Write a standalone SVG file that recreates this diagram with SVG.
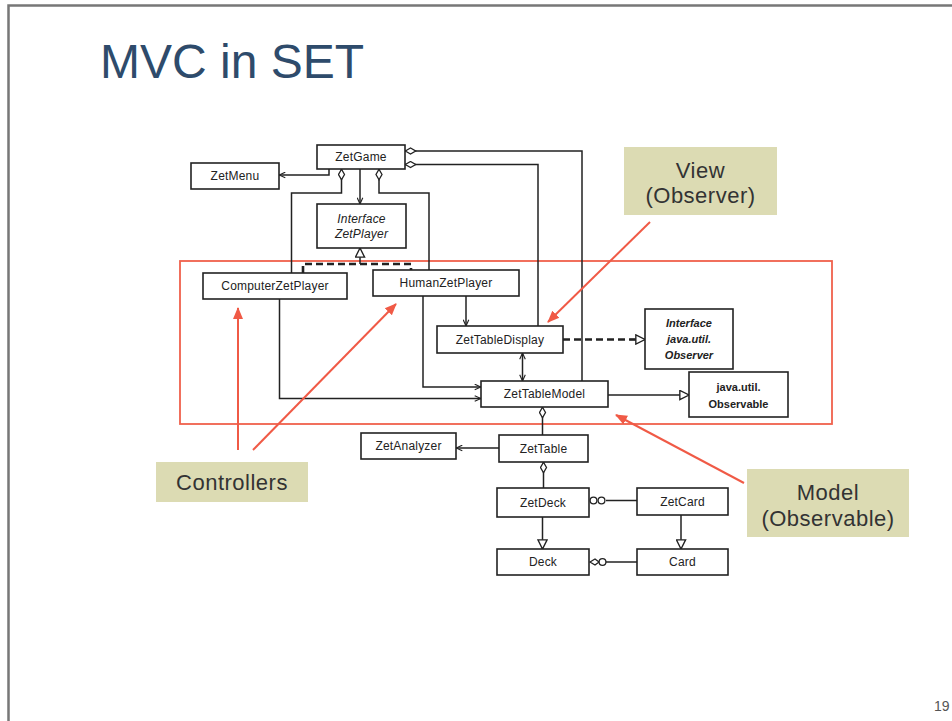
<svg xmlns="http://www.w3.org/2000/svg" width="952" height="721" viewBox="0 0 952 721">
<defs>
<style>
.box{fill:#fff;stroke:#222;stroke-width:1.6}
.t{font-family:"Liberation Sans",Arial,sans-serif;font-size:12px;fill:#222;text-anchor:middle;letter-spacing:0.2px}
.ti{font-style:italic}
.tb{font-weight:bold;font-size:11px;letter-spacing:0}
.c{fill:none;stroke:#222;stroke-width:1.5}
.d{fill:none;stroke:#222;stroke-width:2.6;stroke-dasharray:7,4}
.red{fill:none;stroke:#f05a46;stroke-width:2}
.lab{fill:#dcdbb3}
.lt{font-family:"Liberation Sans",Arial,sans-serif;font-size:22px;fill:#333;text-anchor:middle;letter-spacing:0.5px}
</style>
<marker id="arr" viewBox="0 0 10 10" refX="10" refY="5" markerWidth="7" markerHeight="7" markerUnits="userSpaceOnUse" orient="auto-start-reverse">
<path d="M1,1 L10,5 L1,9" fill="none" stroke="#222" stroke-width="1.6"/>
</marker>
<marker id="tri" viewBox="0 0 12 12" refX="11" refY="6" markerWidth="11" markerHeight="11" markerUnits="userSpaceOnUse" orient="auto">
<path d="M1,1 L11,6 L1,11 Z" fill="#fff" stroke="#222" stroke-width="1.5"/>
</marker>
<marker id="dia" viewBox="0 0 12 8" refX="0.5" refY="4" markerWidth="12" markerHeight="8" markerUnits="userSpaceOnUse" orient="auto">
<path d="M0.8,4 L6,1 L11.2,4 L6,7 Z" fill="#fff" stroke="#222" stroke-width="1.3"/>
</marker>
<marker id="redarr" viewBox="0 0 12 12" refX="11" refY="6" markerWidth="12" markerHeight="12" markerUnits="userSpaceOnUse" orient="auto">
<path d="M0,1 L12,6 L0,11 Z" fill="#f05a46"/>
</marker>
</defs>
<rect width="952" height="721" fill="#fff"/>
<path d="M8.5,721 V5.5 H952" fill="none" stroke="#777" stroke-width="2.5"/>
<text x="100" y="78" font-family="'Liberation Sans',Arial,sans-serif" font-size="48" fill="#2e4b6b">MVC in SET</text>
<text x="934" y="711" font-family="'Liberation Sans',Arial,sans-serif" font-size="14" fill="#555">19</text>

<rect x="180" y="261" width="652" height="163" fill="none" stroke="#f0614c" stroke-width="1.8"/>

<g id="connectors">
<path class="c" d="M329,169 V175 H279" marker-end="url(#arr)"/>
<path class="c" d="M360,169 V204" marker-end="url(#arr)"/>
<path class="c" d="M341.5,169 V193 H291.5 V273" marker-start="url(#dia)"/>
<path class="c" d="M379,169 V193 H429 V270" marker-start="url(#dia)"/>
<path class="d" d="M303,273 V264 H411 V270"/>
<path class="c" d="M360,264 V248" marker-end="url(#tri)"/>
<path class="c" d="M405,151 H582 V381" marker-start="url(#dia)"/>
<path class="c" d="M405,164.5 H538 V326" marker-start="url(#dia)"/>
<path class="c" d="M279.5,299 V398.5 H481" marker-end="url(#arr)"/>
<path class="c" d="M423,296 V387 H481" marker-end="url(#arr)"/>
<path class="c" d="M466,296 V326" marker-end="url(#arr)"/>
<path class="c" d="M522.5,353 V381" marker-start="url(#arr)" marker-end="url(#arr)"/>
<path class="d" d="M563,339.5 H636"/>
<path class="c" d="M630,339.5 H645" marker-end="url(#tri)"/>
<path class="c" d="M608,395 H689" marker-end="url(#tri)"/>
<path class="c" d="M542.5,407 V435" marker-start="url(#dia)"/>
<path class="c" d="M499,448 H456" marker-end="url(#arr)"/>
<path class="c" d="M543.5,462 V488" marker-start="url(#dia)"/>
<path class="c" d="M606,500.5 H637"/>
<circle cx="593.5" cy="500.5" r="3.4" fill="#fff" stroke="#222" stroke-width="1.3"/>
<circle cx="601.5" cy="500.5" r="3.4" fill="#fff" stroke="#222" stroke-width="1.3"/>
<path class="c" d="M542.5,517 V549" marker-end="url(#tri)"/>
<path class="c" d="M681,515 V549" marker-end="url(#tri)"/>
<path class="c" d="M606,562 H637"/>
<path d="M590,562 L595,559 L599,562 L595,565 Z" fill="#fff" stroke="#222" stroke-width="1.3"/>
<circle cx="602.5" cy="562" r="3.4" fill="#fff" stroke="#222" stroke-width="1.3"/>
</g>

<g id="ZetGame"><rect class="box" x="317" y="145" width="88" height="24"/><text class="t" x="361" y="161">ZetGame</text></g>
<g id="ZetMenu"><rect class="box" x="191" y="163" width="88" height="26"/><text class="t" x="235" y="180">ZetMenu</text></g>
<g id="ZetPlayer"><rect class="box" x="317" y="204" width="89" height="44"/><text class="t ti" x="361.5" y="223">Interface</text><text class="t ti" x="361.5" y="238">ZetPlayer</text></g>
<g id="ComputerZetPlayer"><rect class="box" x="203" y="273" width="144" height="26"/><text class="t" x="275" y="290">ComputerZetPlayer</text></g>
<g id="HumanZetPlayer"><rect class="box" x="373" y="270" width="146" height="26"/><text class="t" x="446" y="287">HumanZetPlayer</text></g>
<g id="ZetTableDisplay"><rect class="box" x="437" y="326" width="126" height="27"/><text class="t" x="500" y="344">ZetTableDisplay</text></g>
<g id="Observer"><rect class="box" x="645" y="309" width="88" height="60"/><text class="t ti tb" x="689" y="327">Interface</text><text class="t ti tb" x="689" y="343">java.util.</text><text class="t ti tb" x="689" y="359">Observer</text></g>
<g id="ZetTableModel"><rect class="box" x="481" y="381" width="127" height="26"/><text class="t" x="544.5" y="398">ZetTableModel</text></g>
<g id="Observable"><rect class="box" x="689" y="372" width="99" height="45"/><text class="t tb" x="738.5" y="391">java.util.</text><text class="t tb" x="738.5" y="408">Observable</text></g>
<g id="ZetAnalyzer"><rect class="box" x="361" y="433" width="95" height="26"/><text class="t" x="408.5" y="450">ZetAnalyzer</text></g>
<g id="ZetTable"><rect class="box" x="499" y="435" width="89" height="27"/><text class="t" x="543.5" y="453">ZetTable</text></g>
<g id="ZetDeck"><rect class="box" x="497" y="488" width="92" height="29"/><text class="t" x="543" y="507">ZetDeck</text></g>
<g id="ZetCard"><rect class="box" x="637" y="488" width="91" height="27"/><text class="t" x="682.5" y="506">ZetCard</text></g>
<g id="Deck"><rect class="box" x="497" y="549" width="92" height="26"/><text class="t" x="543" y="566">Deck</text></g>
<g id="Card"><rect class="box" x="637" y="549" width="91" height="26"/><text class="t" x="682.5" y="566">Card</text></g>

<g id="callouts">
<path class="red" d="M238,450 V308" marker-end="url(#redarr)"/>
<path class="red" d="M253,450 L396,304" marker-end="url(#redarr)"/>
<path class="red" d="M650,222 L548,322" marker-end="url(#redarr)"/>
<path class="red" d="M744,483 L616,415" marker-end="url(#redarr)"/>
</g>
<g id="Controllers"><rect class="lab" x="156" y="462" width="152" height="40"/><text class="lt" x="232" y="490">Controllers</text></g>
<g id="View"><rect class="lab" x="624" y="147" width="153" height="68"/><text class="lt" x="700.5" y="178">View</text><text class="lt" x="700.5" y="203">(Observer)</text></g>
<g id="Model"><rect class="lab" x="747" y="469" width="162" height="68"/><text class="lt" x="828" y="500">Model</text><text class="lt" x="828" y="526">(Observable)</text></g>
</svg>
